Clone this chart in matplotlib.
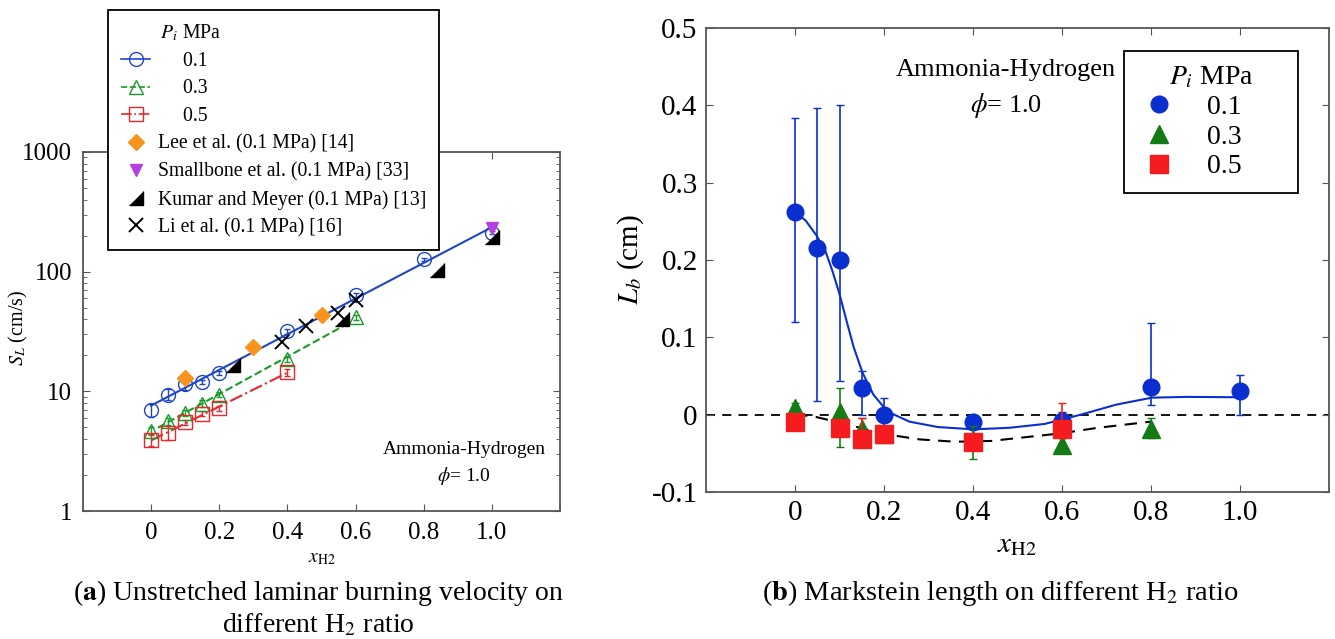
import matplotlib
matplotlib.use('agg')
import matplotlib.pyplot as plt
from matplotlib.lines import Line2D
import numpy as np

# ---- (a) unstretched laminar burning velocity, S_L in cm/s ----
x_01 = [0, 0.05, 0.1, 0.15, 0.2, 0.4, 0.6, 0.8, 1.0]
sl_01 = [7.0, 9.4, 11.5, 12.0, 14.3, 31.9, 63.8, 126.7, 211]
sl_01_err = [0.9, 1.0, 1.2, 0.5, 0.6, 1.5, 2.5, 4.0, 6.0]

x_03 = [0, 0.05, 0.1, 0.15, 0.2, 0.4, 0.6]
sl_03 = [4.7, 5.6, 6.6, 7.9, 9.4, 18.5, 41.5]
sl_03_err = [0.3, 0.4, 0.4, 0.5, 0.5, 1.0, 2.0]

x_05 = [0, 0.05, 0.1, 0.15, 0.2, 0.4]
sl_05 = [3.9, 4.5, 5.5, 6.5, 7.2, 14.4]
sl_05_err = [0.4, 0.6, 0.3, 0.3, 0.3, 1.0]

# fitted range of each exponential trend line
fit_01 = (0.0, 1.0)
fit_03 = (0.02, 0.57)
fit_05 = (0.0, 0.4)

x_lee = [0.1, 0.3, 0.5]
sl_lee = [13.0, 23.3, 43.2]
x_smallbone = [1.0]
sl_smallbone = [232]
x_kumar = [0.24, 0.56, 0.84, 1.0]
sl_kumar = [16.5, 40.5, 103, 193]
x_li = [0.385, 0.455, 0.548, 0.6]
sl_li = [26, 35, 45, 58]

# ---- (b) Markstein length, L_b in cm ----
xb_01 = [0, 0.05, 0.1, 0.15, 0.2, 0.4, 0.6, 0.8, 1.0]
lb_01 = [0.262, 0.215, 0.200, 0.034, 0.0, -0.009, -0.008, 0.036, 0.030]
lb_01_lo = [0.120, 0.018, 0.043, 0.0, -0.020, -0.015, -0.018, 0.013, -0.001]
lb_01_hi = [0.384, 0.397, 0.401, 0.056, 0.022, -0.003, 0.004, 0.119, 0.051]

xb_03 = [0, 0.1, 0.15, 0.2, 0.4, 0.6, 0.8]
lb_03 = [0.008, 0.004, -0.018, -0.025, -0.033, -0.039, -0.019]
lb_03_lo = [0.0, -0.042, -0.024, -0.030, -0.057, -0.045, -0.030]
lb_03_hi = [0.015, 0.034, -0.004, -0.018, -0.015, -0.030, -0.004]

xb_05 = [0, 0.1, 0.15, 0.2, 0.4, 0.6]
lb_05 = [-0.009, -0.017, -0.032, -0.025, -0.035, -0.018]
lb_05_lo = [-0.016, -0.025, -0.040, -0.030, -0.040, -0.030]
lb_05_hi = [-0.002, -0.010, -0.004, -0.020, -0.030, 0.015]

# trend curves
curve_01_x = [0, 0.024, 0.048, 0.068, 0.084, 0.100, 0.116, 0.132, 0.152, 0.176,
              0.208, 0.257, 0.321, 0.401, 0.481, 0.561, 0.642, 0.722, 0.802, 0.882, 1.0]
curve_01_y = [0.262, 0.251, 0.232, 0.212, 0.186, 0.156, 0.121, 0.087, 0.054, 0.026,
              0.004, -0.009, -0.016, -0.019, -0.017, -0.012, 0.0, 0.013, 0.022, 0.023, 0.0225]
curve_hp_x = [0, 0.04, 0.12, 0.2, 0.28, 0.36, 0.44, 0.52, 0.6, 0.68, 0.8]
curve_hp_y = [0.0, -0.002, -0.013, -0.025, -0.032, -0.035, -0.034, -0.029, -0.024, -0.017, -0.009]

BLUE = '#1f45c8'
GREEN = '#1b9a2a'
RED = '#e8282c'
ORANGE = '#f7941d'
PURPLE = '#b53fe0'
DBLUE = '#0a2fcf'
DGREEN = '#137a15'
DRED = '#f41c1f'

plt.rcParams['font.family'] = 'serif'
plt.rcParams['font.serif'] = ['Liberation Serif', 'DejaVu Serif']
plt.rcParams['mathtext.fontset'] = 'stix'
plt.rcParams['axes.unicode_minus'] = False

kumar_marker = [(-1, -1), (1, -1), (1, 1)]

fig = plt.figure(figsize=(13.35, 6.39), dpi=100)
W, H = 1335, 639


def ax_rect(x0, y0, x1, y1):
    return [x0 / W, 1 - y1 / H, (x1 - x0) / W, (y1 - y0) / H]


def style_axes(ax, size, pad):
    for sp in ax.spines.values():
        sp.set_color('#555555')
        sp.set_linewidth(1.3)
    ax.tick_params(which='both', direction='in', top=True, right=True,
                   color='#555555', labelsize=size, pad=pad)
    ax.tick_params(which='major', length=5)
    ax.tick_params(which='minor', length=3)


# ---------------- panel (a) ----------------
ax1 = fig.add_axes(ax_rect(83, 152, 560, 511))
ax1.set_yscale('log')
ax1.set_xlim(-0.2, 1.2)
ax1.set_ylim(1, 1000)
style_axes(ax1, 18, 8)

for xs, ys, rng, col, ls in [(x_01, sl_01, fit_01, BLUE, '-'),
                              (x_03, sl_03, fit_03, GREEN, '--'),
                              (x_05, sl_05, fit_05, RED, '-.')]:
    k, b = np.polyfit(xs, np.log10(ys), 1)
    xf = np.array(rng)
    ax1.plot(xf, 10 ** (k * xf + b), color=col, ls=ls, lw=1.5, zorder=2)

ax1.errorbar(x_01, sl_01, yerr=sl_01_err, fmt='o', mfc='none', mec=BLUE, ecolor=BLUE,
             ms=10, mew=1.0, elinewidth=1, capsize=2, zorder=3)
ax1.errorbar(x_03, sl_03, yerr=sl_03_err, fmt='^', mfc='none', mec=GREEN, ecolor=GREEN,
             ms=10, mew=1.0, elinewidth=1, capsize=2, zorder=3)
ax1.errorbar(x_05, sl_05, yerr=sl_05_err, fmt='s', mfc='none', mec=RED, ecolor=RED,
             ms=10, mew=1.0, elinewidth=1, capsize=2, zorder=3)
ax1.plot(x_lee, sl_lee, 'D', color=ORANGE, ms=8, zorder=4)
ax1.plot(x_smallbone, sl_smallbone, 'v', color=PURPLE, ms=8, zorder=4)
ax1.plot(x_kumar, sl_kumar, marker=kumar_marker, ls='none', color='k', ms=10, zorder=4)
ax1.plot(x_li, sl_li, 'x', color='k', ms=10, mew=1.4, zorder=4)

ax1.set_xticks([0, 0.2, 0.4, 0.6, 0.8, 1.0])
ax1.set_xticklabels(['0', '0.2', '0.4', '0.6', '0.8', '1.0'])
ax1.set_yticks([1, 10, 100, 1000])
ax1.set_yticklabels(['1', '10', '100', '1000'])
ax1.set_xlabel(r'$x_{\mathrm{H2}}$', fontsize=14, labelpad=4)
ax1.set_ylabel(r'$S_L$ (cm/s)', fontsize=14.5)
ax1.yaxis.set_label_coords(-0.111, 0.51)

ax1.text(464, H - 450, 'Ammonia-Hydrogen', transform=None, fontsize=14,
         ha='center', va='center')
ax1.text(464, H - 476, r'$\phi$= 1.0', transform=None, fontsize=14,
         ha='center', va='center')

handles_a = [
    Line2D([], [], color=BLUE, marker='o', mfc='none', ls='-', ms=10, lw=1.2),
    Line2D([], [], color=GREEN, marker='^', mfc='none', ls='--', ms=10, lw=1.2),
    Line2D([], [], color=RED, marker='s', mfc='none', ls='-.', ms=10, lw=1.2),
    Line2D([], [], color=ORANGE, marker='D', ls='none', ms=8),
    Line2D([], [], color=PURPLE, marker='v', ls='none', ms=8),
    Line2D([], [], color='k', marker=kumar_marker, ls='none', ms=10),
    Line2D([], [], color='k', marker='x', ls='none', ms=10, mew=1.4),
]
labels_a = ['     0.1', '     0.3', '     0.5',
            'Lee et al. (0.1 MPa) [14]',
            'Smallbone et al. (0.1 MPa) [33]',
            'Kumar and Meyer (0.1 MPa) [13]',
            'Li et al. (0.1 MPa) [16]']
leg_a = fig.legend(handles_a, labels_a, loc='upper left',
                   bbox_to_anchor=(108 / W, 1 - 10 / H),
                   title=r'        $P_i$ MPa', title_fontsize=14.2, fontsize=14.2,
                   alignment='left', frameon=True, fancybox=False,
                   edgecolor='k', framealpha=1, handlelength=1.5,
                   handletextpad=0.4, labelspacing=0.43, borderpad=0.65,
                   borderaxespad=0)
leg_a.get_frame().set_linewidth(1.3)

# ---------------- panel (b) ----------------
ax2 = fig.add_axes(ax_rect(706, 28, 1329, 492))
ax2.set_xlim(-0.2, 1.2)
ax2.set_ylim(-0.1, 0.5)
style_axes(ax2, 21, 6)

ax2.axhline(0, color='k', ls='--', lw=1.3, dashes=(5, 4), zorder=1)
ax2.plot(curve_01_x, curve_01_y, color=DBLUE, lw=1.5, zorder=2)
ax2.plot(curve_hp_x, curve_hp_y, color='k', lw=1.5, ls='--', dashes=(6, 4), zorder=2)


def asym(vals, lo, hi):
    v = np.array(vals)
    return [v - np.array(lo), np.array(hi) - v]


ax2.errorbar(xb_01, lb_01, yerr=asym(lb_01, lb_01_lo, lb_01_hi), fmt='o',
             color=DBLUE, ms=12, elinewidth=1.2, capsize=3, zorder=3)
ax2.errorbar(xb_03, lb_03, yerr=asym(lb_03, lb_03_lo, lb_03_hi), fmt='^',
             color=DGREEN, ms=13, elinewidth=1.2, capsize=3, zorder=4)
ax2.errorbar(xb_05, lb_05, yerr=asym(lb_05, lb_05_lo, lb_05_hi), fmt='s',
             color=DRED, ms=12.5, elinewidth=1.2, capsize=3, zorder=5)

ax2.set_xticks([0, 0.2, 0.4, 0.6, 0.8, 1.0])
ax2.set_xticklabels(['0', '0.2', '0.4', '0.6', '0.8', '1.0'])
ax2.set_yticks([-0.1, 0, 0.1, 0.2, 0.3, 0.4, 0.5])
ax2.set_yticklabels(['-0.1', '0', '0.1', '0.2', '0.3', '0.4', '0.5'])
ax2.set_xlabel(r'$x_{\mathrm{H2}}$', fontsize=21, labelpad=4)
ax2.set_ylabel(r'$L_b$ (cm)', fontsize=21, labelpad=4)

ax2.text(1006, H - 70, 'Ammonia-Hydrogen', transform=None, fontsize=19,
         ha='center', va='center')
ax2.text(1006, H - 105, r'$\phi$= 1.0', transform=None, fontsize=19,
         ha='center', va='center')

handles_b = [
    Line2D([], [], color=DBLUE, marker='o', ls='none', ms=12),
    Line2D([], [], color=DGREEN, marker='^', ls='none', ms=13),
    Line2D([], [], color=DRED, marker='s', ls='none', ms=12.5),
]
leg_b = fig.legend(handles_b, ['0.1      ', '0.3      ', '0.5      '], loc='upper left',
                   bbox_to_anchor=(1124 / W, 1 - 51 / H),
                   title=r'$P_i$ MPa', title_fontsize=20, fontsize=20,
                   frameon=True, fancybox=False, edgecolor='k', framealpha=1,
                   handlelength=1.5, handletextpad=1.0, labelspacing=0.15,
                   borderpad=0.5, borderaxespad=0)
leg_b.get_frame().set_linewidth(1.3)

# ---------------- captions ----------------
fig.text(318, H - 593, r'($\mathbf{a}$) Unstretched laminar burning velocity on',
         transform=None, fontsize=20, ha='center', va='center')
fig.text(318, H - 625, r'different H$_2$ ratio', transform=None, fontsize=20,
         ha='center', va='center')
fig.text(1000, H - 593, r'($\mathbf{b}$) Markstein length on different H$_2$ ratio',
         transform=None, fontsize=20.5, ha='center', va='center')

fig.savefig('out.png', dpi=100)
